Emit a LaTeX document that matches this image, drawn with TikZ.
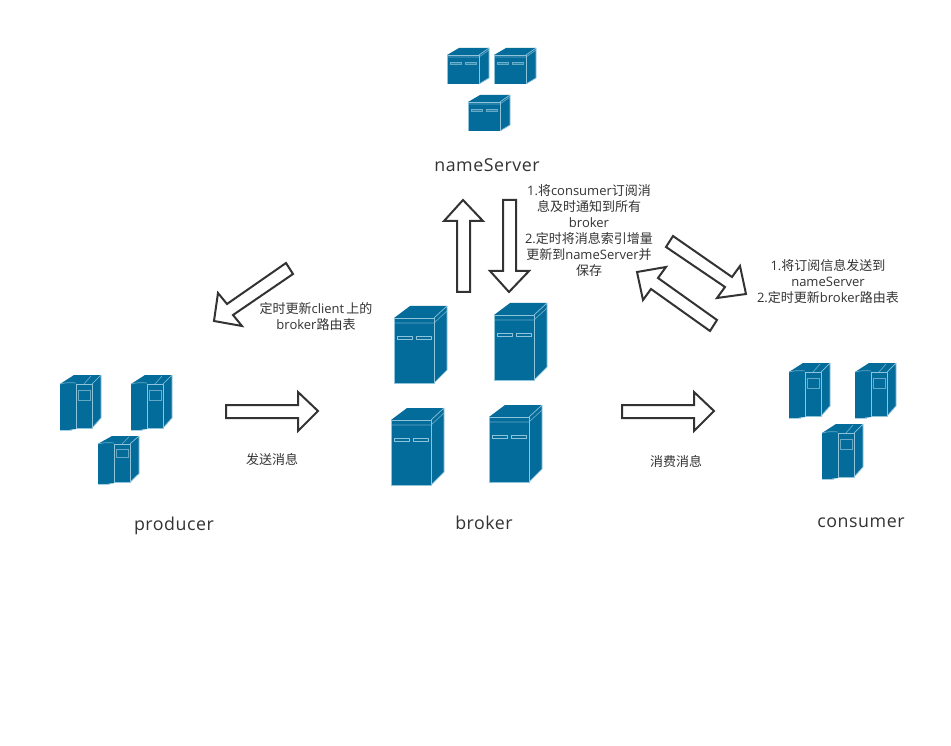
\documentclass[tikz,border=0pt]{standalone}
\usepackage{fontspec}
\setmainfont{Open Sans}
\newfontfamily\cjk{Noto Sans CJK SC}
\newfontfamily\spaced[LetterSpace=3]{Open Sans}
\newcommand{\zh}[1]{{\cjk #1}}
\definecolor{srv}{HTML}{036C9B}
\definecolor{srvl}{HTML}{8FC3DA}
\definecolor{ink}{HTML}{333333}
\tikzset{
  fine/.style={draw=srvl,line width=0.7pt,line join=round},
  soft/.style={draw=srvl,line width=0.7pt,opacity=.7},
  blockarrow/.style={draw=ink,fill=white,line width=2pt,line join=miter},
  title/.style={font=\spaced\fontsize{17.8}{20}\selectfont,text=ink,inner sep=0pt},
  note/.style={font=\fontsize{13}{16}\selectfont,text=ink,inner sep=0pt,align=center},
  pics/smallsrv/.style={code={
    \fill[srv] (0,7)--(12,0)--(42,0)--(42,30)--(32,36)--(0,36)--cycle;
    \draw[fine] (0,36)--(0,7)--(32,7)--(32,36);
    \draw[fine] (32,7)--(42,0)--(42,30)--(32,36);
    \draw[soft] (0,9)--(32,9)--(42,2);
    \draw[soft,fill=srvl!40!srv] (3,14)--(14,14)--(14,16)--(3,16)--cycle;
    \draw[soft,fill=srvl!40!srv] (18,14)--(29,14)--(29,16)--(18,16)--cycle;
  }},
  pics/bigsrv/.style={code={
    \fill[srv] (0,12)--(16,0)--(53,0)--(53,64)--(40,77)--(0,77)--cycle;
    \draw[fine] (0,77)--(0,12)--(40,12)--(40,77)--cycle;
    \draw[fine] (40,12)--(53,0)--(53,64)--(40,77);
    \draw[soft] (0,17)--(40,17)--(53,5);
    \draw[fine] (3,30)--(18,30)--(18,33)--(3,33)--cycle;
    \draw[fine] (22,30)--(37,30)--(37,33)--(22,33)--cycle;
  }},
  pics/racksrv/.style={code={
    \fill[srv] (0,9)--(14,0)--(41,0)--(41,43)--(32,53)--(16,53)--(16,54)--(8,55)--(0,55)--cycle;
    \draw[fine] (16,53)--(16,9)--(32,9)--(32,53)--cycle;
    \draw[fine] (32,9)--(41,0)--(41,43)--(32,53);
    \draw[soft] (0,9) to[bend left=10] (16,8);
    \draw[soft] (0,55)--(12,55);
    \draw[soft] (24,9)--(31,1);
    \draw[soft] (18,15)--(30,15)--(30,25)--(18,25)--cycle;
  }}
}
\begin{document}
\begin{tikzpicture}[x=1pt,y=-1pt]
\useasboundingbox (0,0) rectangle (951,746);
\fill[white] (0,0) rectangle (951,746);
% name servers
\pic at (447,48) {smallsrv};
\pic at (494,48) {smallsrv};
\pic at (468,95) {smallsrv};
% brokers
\pic at (394,306) {bigsrv};
\pic at (494,303) {bigsrv};
\pic at (391,408) {bigsrv};
\pic at (489,405) {bigsrv};
% producers
\pic at (60,375) {racksrv};
\pic at (131,375) {racksrv};
\pic[yscale=.873] at (98,436) {racksrv};
% consumers
\pic at (789,363) {racksrv};
\pic at (855,363) {racksrv};
\pic at (822,424) {racksrv};
% block arrows
\draw[blockarrow] (463,200)--(483,221)--(470,221)--(470,292)--(457,292)--(457,221)--(444,221)--cycle;
\draw[blockarrow] (509,292)--(529,271)--(516,271)--(516,200)--(503,200)--(503,271)--(490,271)--cycle;
\draw[blockarrow] (318,411)--(298,392)--(298,405)--(226,405)--(226,418)--(298,418)--(298,431)--cycle;
\draw[blockarrow] (714,411)--(694,392)--(694,405)--(622,405)--(622,418)--(694,418)--(694,431)--cycle;
\draw[blockarrow] (214,321)--(218,293)--(227,304)--(286,263)--(293,274)--(233,315)--(242,326)--cycle;
\draw[blockarrow] (673,236)--(666,247)--(725,287)--(717,298)--(746,294)--(740,266)--(732,277)--cycle;
\draw[blockarrow] (637,272)--(666,267)--(658,278)--(717,320)--(710,331)--(651,289)--(643,300)--cycle;
% titles
\node[title] (tname) at (487,165) {nameServer};
\node[title] (tprod) at (174,526) {producer};
\node[title] (tbrok) at (484,523) {broker};
\node[title] (tcons) at (861,523) {consumer};
% notes
\node[note] (n1) at (589,231) {1.\zh{将}consumer\zh{订阅消}\\\zh{息及时通知到所有}\\broker\\2.\zh{定时将消息索引增量}\\\zh{更新到}nameServer\zh{并}\\\zh{保存}};
\node[note] (n2) at (828,282) {1.\zh{将订阅信息发送到}\\nameServer\\2.\zh{定时更新}broker\zh{路由表}};
\node[note] (n3) at (316,317) {\zh{定时更新}client\,\zh{上的}\\broker\zh{路由表}};
\node[note] (n4) at (272,460) {\zh{发送消息}};
\node[note] (n5) at (676,461) {\zh{消费消息}};
\end{tikzpicture}
\end{document}
